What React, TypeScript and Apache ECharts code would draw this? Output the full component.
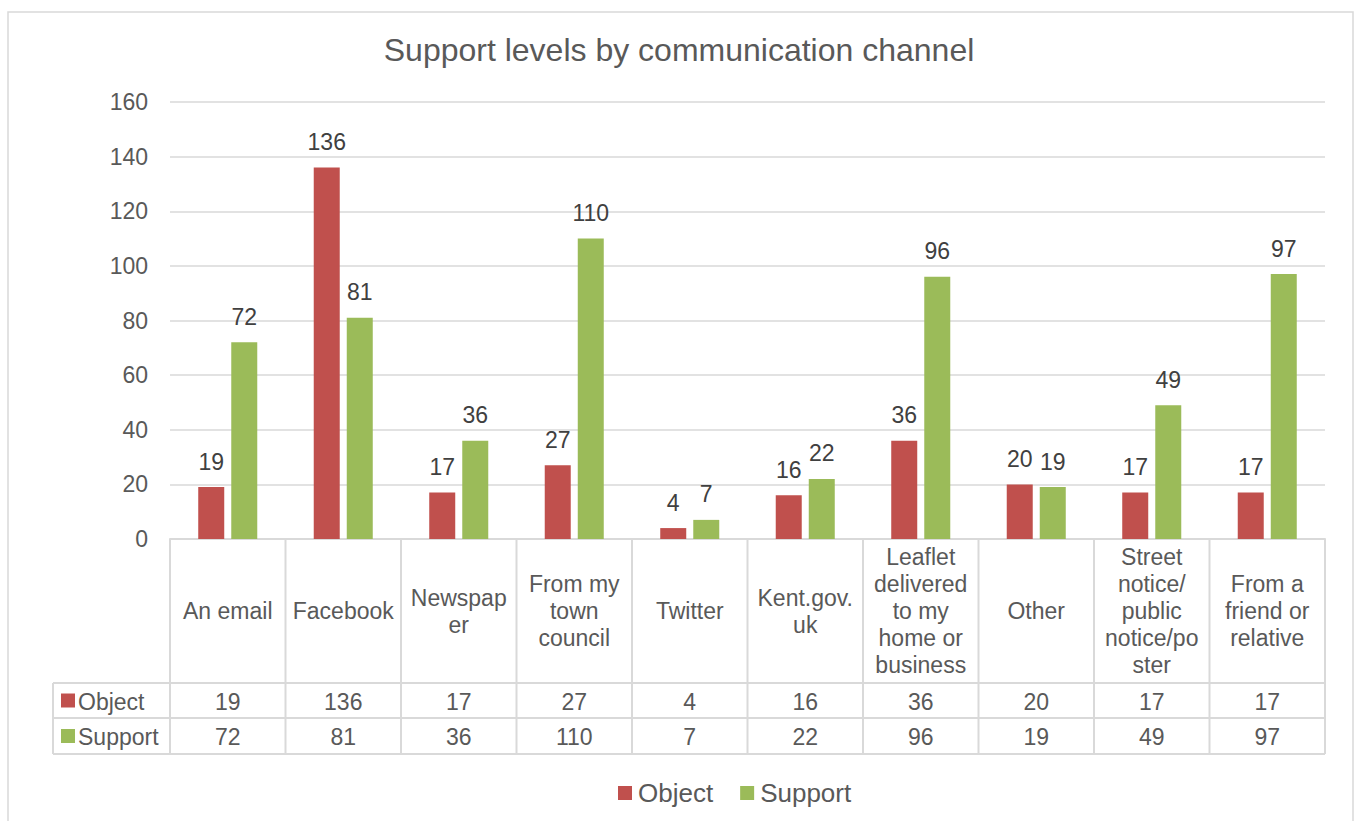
import React, { useEffect, useRef } from "react";
import * as echarts from "echarts";

const categories = [
  "An email",
  "Facebook",
  "Newspap\ner",
  "From my\ntown\ncouncil",
  "Twitter",
  "Kent.gov.\nuk",
  "Leaflet\ndelivered\nto my\nhome or\nbusiness",
  "Other",
  "Street\nnotice/\npublic\nnotice/po\nster",
  "From a\nfriend or\nrelative",
];
const objectValues = [19, 136, 17, 27, 4, 16, 36, 20, 17, 17];
const supportValues = [72, 81, 36, 110, 7, 22, 96, 19, 49, 97];
const yTicks = { min: 0, max: 160, interval: 20 };

const RED = "#C0504D";
const GREEN = "#9BBB59";
const TEXT = "#595959";
const LINE = "#D9D9D9";
const FONT = "Liberation Sans, Arial, sans-serif";

export default function App() {
  const ref = useRef<HTMLDivElement>(null);
  useEffect(() => {
    if (!ref.current) return;
    const chart = echarts.init(ref.current, undefined, { renderer: "svg" });
    const gridTop = 102;
    const gridBottomY = 539;
    chart.setOption({
      animation: false,
      backgroundColor: "#fff",
      textStyle: { fontFamily: FONT },
      title: {
        text: "Support levels by communication channel",
        left: "center",
        top: 29,
        textStyle: { fontSize: 32, fontWeight: "normal", color: TEXT, fontFamily: FONT },
      },
      legend: {
        left: 613,
        top: 775,
        itemWidth: 14,
        itemHeight: 14,
        itemGap: 27,
        icon: "rect",
        textStyle: { fontSize: 26, color: TEXT, fontFamily: FONT, padding: [0, 0, 0, 1] },
        data: ["Object", "Support"],
      },
      grid: { left: 170, right: 33, top: gridTop, bottom: 821 - gridBottomY },
      xAxis: {
        type: "category",
        data: categories,
        axisLine: { lineStyle: { color: LINE, width: 2 } },
        axisTick: { show: false },
        axisLabel: {
          interval: 0,
          margin: 72,
          verticalAlign: "middle",
          lineHeight: 27,
          fontSize: 23,
          color: TEXT,
          fontFamily: FONT,
          align: "center",
        },
      },
      yAxis: {
        type: "value",
        min: yTicks.min,
        max: yTicks.max,
        interval: yTicks.interval,
        axisLine: { show: false },
        axisTick: { show: false },
        splitLine: { lineStyle: { color: LINE, width: 1.5 } },
        axisLabel: { fontSize: 23, color: TEXT, margin: 22, fontFamily: FONT },
      },
      series: [
        {
          name: "Object",
          type: "bar",
          data: objectValues,
          barWidth: 26,
          barGap: "27%",
          itemStyle: { color: RED },
          label: { show: true, position: "top", distance: 14, fontSize: 23, color: "#404040", fontFamily: FONT },
        },
        {
          name: "Support",
          type: "bar",
          data: supportValues,
          barWidth: 26,
          barGap: "27%",
          itemStyle: { color: GREEN },
          label: { show: true, position: "top", distance: 14, fontSize: 23, color: "#404040", fontFamily: FONT },
        },
      ],
    });

    // Build data table from the axis scale
    const c0 = chart.convertToPixel({ xAxisIndex: 0 }, 0) as number;
    const c1 = chart.convertToPixel({ xAxisIndex: 0 }, 1) as number;
    const band = c1 - c0;
    const leftX = c0 - band / 2;
    const rightX = leftX + band * categories.length;
    const headerBottom = 683;
    const row1Bottom = 718;
    const row2Bottom = 754;
    const tableLeft = 53;
    const graphics: any[] = [];
    graphics.push({
      type: "rect",
      shape: { x: 8, y: 12, width: 1345, height: 830 },
      style: { fill: "none", stroke: LINE, lineWidth: 1.5 },
      silent: true,
      z: -1,
    });
    const hline = (x1: number, x2: number, y: number) =>
      graphics.push({ type: "line", shape: { x1, y1: y, x2, y2: y }, style: { stroke: LINE, lineWidth: 2 }, silent: true });
    const vline = (x: number, y1: number, y2: number) =>
      graphics.push({ type: "line", shape: { x1: x, y1, x2: x, y2 }, style: { stroke: LINE, lineWidth: 2 }, silent: true });
    hline(tableLeft, rightX, headerBottom);
    hline(tableLeft, rightX, row1Bottom);
    hline(tableLeft, rightX, row2Bottom);
    vline(tableLeft, headerBottom, row2Bottom);
    for (let i = 0; i <= categories.length; i++) {
      vline(leftX + band * i, gridBottomY, row2Bottom);
    }
    const rows = [
      { name: "Object", color: RED, values: objectValues, top: headerBottom, bottom: row1Bottom },
      { name: "Support", color: GREEN, values: supportValues, top: row1Bottom, bottom: row2Bottom },
    ];
    rows.forEach((r) => {
      const cy = (r.top + r.bottom) / 2;
      graphics.push({ type: "rect", shape: { x: 61, y: cy - 7, width: 14, height: 14 }, style: { fill: r.color }, silent: true });
      graphics.push({
        type: "text",
        x: 78,
        y: cy + 1,
        style: { text: r.name, font: `23px ${FONT}`, fill: TEXT, textAlign: "left", textVerticalAlign: "middle" },
        silent: true,
      });
      r.values.forEach((v, i) => {
        const cx = chart.convertToPixel({ xAxisIndex: 0 }, i) as number;
        graphics.push({
          type: "text",
          x: cx,
          y: cy + 1,
          style: { text: String(v), font: `23px ${FONT}`, fill: TEXT, textAlign: "center", textVerticalAlign: "middle" },
          silent: true,
        });
      });
    });
    chart.setOption({ graphic: graphics });
    return () => chart.dispose();
  }, []);
  return (
    <div
      ref={ref}
      style={{ position: "fixed", left: 0, top: 0, width: 1358, height: 821 }}
    />
  );
}
